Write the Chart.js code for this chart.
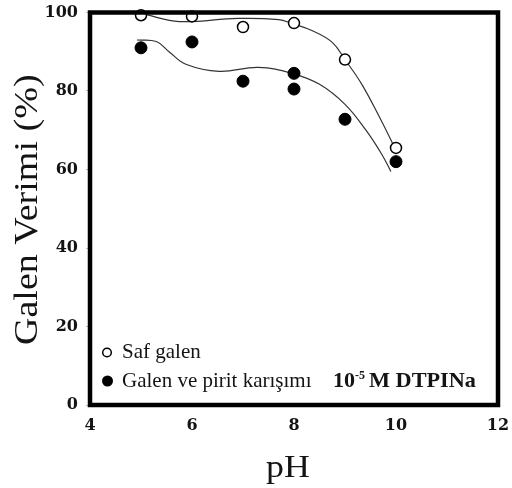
<!DOCTYPE html>
<html>
<head>
<meta charset="utf-8">
<script src="https://cdn.jsdelivr.net/npm/chart.js@4"></script>
<style>
    html, body { margin: 0; padding: 0; background: #fff; }
    #wrap { width: 512px; height: 488px; }
</style>
</head>
<body>
<div id="wrap"><canvas id="galenChart" width="512" height="488"></canvas></div>
<script>
// --- Data ---
const phSaf = [5, 6, 7, 8, 9, 10];
const verimSaf = [99.3, 99, 96.3, 97.3, 88, 65.5];

const phKarisim = [5, 6, 7, 8, 8, 9, 10];
const verimKarisim = [91, 92.5, 82.5, 84.5, 80.5, 72.8, 62];

// hand-drawn trend curves
const curveSafX = [5.08, 5.75, 6.9, 7.7, 7.96, 8.35, 8.75, 9.0, 9.33, 9.67, 9.92, 10.0];
const curveSafY = [99.5, 97.7, 98.5, 98.2, 97.2, 95.4, 92.4, 88, 81.7, 73.5, 67, 64.6];

const curveKarX = [4.92, 5.3, 5.55, 5.88, 6.53, 7.3, 7.96, 8.5, 9.0, 9.4, 9.72, 9.9];
const curveKarY = [93, 92.6, 90, 86.8, 85, 86, 84.5, 81.7, 76.6, 70.2, 63.9, 59.5];

const xTicks = [4, 6, 8, 10, 12];
const yTicks = [0, 20, 40, 60, 80, 100];

const zip = (xs, ys) => xs.map((x, i) => ({ x: x, y: ys[i] }));

const SERIF = '"Liberation Serif", "Times New Roman", serif';
const TICK_FONT = '"DejaVu Serif", serif';

// text widened a little along its own direction, like the figure's Times
function wideText(ctx, text, x, y, sx, rot) {
    ctx.save();
    ctx.translate(x, y);
    if (rot) ctx.rotate(rot);
    ctx.scale(sx, 1);
    ctx.fillText(text, 0, 0);
    ctx.restore();
}

// frame, axis titles, legend and note
const framePlugin = {
    id: 'frame',
    afterDatasetsDraw(chart) {
        const { ctx, chartArea: a } = chart;
        ctx.save();
        ctx.strokeStyle = '#000';
        ctx.lineWidth = 4.5;
        ctx.strokeRect(a.left, a.top, a.right - a.left, a.bottom - a.top);

        ctx.fillStyle = '#141414';
        ctx.textBaseline = 'alphabetic';

        // axis titles
        ctx.textAlign = 'center';
        ctx.font = '32px ' + SERIF;
        wideText(ctx, 'pH', 288, 477, 1.12, 0);
        ctx.font = '34px ' + SERIF;
        wideText(ctx, 'Galen Verimi (%)', 37, (a.top + a.bottom) / 2 + 1, 1.12, -Math.PI / 2);

        // legend
        ctx.textAlign = 'left';
        ctx.font = '21px ' + SERIF;
        ctx.fillText('Saf galen', 122, 358);
        ctx.fillText('Galen ve pirit karışımı', 122, 387);
        ctx.lineWidth = 1.5;
        ctx.strokeStyle = '#000';
        ctx.beginPath();
        ctx.arc(107, 352.5, 4.3, 0, Math.PI * 2);
        ctx.stroke();
        ctx.fillStyle = '#000';
        ctx.beginPath();
        ctx.arc(107.5, 381, 5.5, 0, Math.PI * 2);
        ctx.fill();

        // concentration note
        ctx.fillStyle = '#141414';
        ctx.font = 'bold 21px ' + SERIF;
        wideText(ctx, '10', 333, 387, 1.05, 0);
        ctx.font = 'bold 12px ' + SERIF;
        ctx.fillText('-5', 355, 379);
        ctx.font = 'bold 21px ' + SERIF;
        wideText(ctx, 'M DTPINa', 369, 387, 1.06, 0);
        ctx.restore();
    }
};

new Chart(document.getElementById('galenChart'), {
    type: 'scatter',
    data: {
        datasets: [
            {
                label: 'Saf galen',
                data: zip(phSaf, verimSaf),
                pointRadius: 5.5,
                pointBackgroundColor: '#fff',
                pointBorderColor: '#000',
                pointBorderWidth: 1.5,
                clip: false,
                order: 1
            },
            {
                label: 'Galen ve pirit karışımı',
                data: zip(phKarisim, verimKarisim),
                pointRadius: 6,
                pointBackgroundColor: '#000',
                pointBorderColor: '#000',
                clip: false,
                order: 1
            },
            {
                type: 'line',
                data: zip(curveSafX, curveSafY),
                borderColor: '#333',
                borderWidth: 1.2,
                pointRadius: 0,
                tension: 0.4,
                fill: false,
                order: 2
            },
            {
                type: 'line',
                data: zip(curveKarX, curveKarY),
                borderColor: '#333',
                borderWidth: 1.2,
                pointRadius: 0,
                tension: 0.4,
                fill: false,
                order: 2
            }
        ]
    },
    options: {
        responsive: false,
        animation: false,
        layout: { padding: { top: 12.5, right: 14, left: 0, bottom: 0 } },
        plugins: {
            legend: { display: false },
            tooltip: { enabled: false }
        },
        scales: {
            x: {
                type: 'linear',
                min: 4,
                max: 12,
                afterBuildTicks: (s) => { s.ticks = xTicks.map(v => ({ value: v })); },
                afterFit: (s) => { s.height = 83; s.paddingLeft = 0; s.paddingRight = 0; },
                grid: { display: false },
                border: { display: false },
                ticks: {
                    padding: 3,
                    color: '#141414',
                    font: { family: TICK_FONT, size: 16, weight: 'bold' }
                }
            },
            y: {
                min: 0,
                max: 100,
                afterBuildTicks: (s) => { s.ticks = yTicks.map(v => ({ value: v })); },
                afterFit: (s) => { s.width = 90; s.paddingTop = 0; s.paddingBottom = 0; },
                grid: { drawOnChartArea: false, tickLength: 4, color: '#bbb' },
                border: { display: false },
                ticks: {
                    padding: 8,
                    color: '#141414',
                    font: { family: TICK_FONT, size: 16, weight: 'bold' }
                }
            }
        }
    },
    plugins: [framePlugin]
});
</script>
</body>
</html>
